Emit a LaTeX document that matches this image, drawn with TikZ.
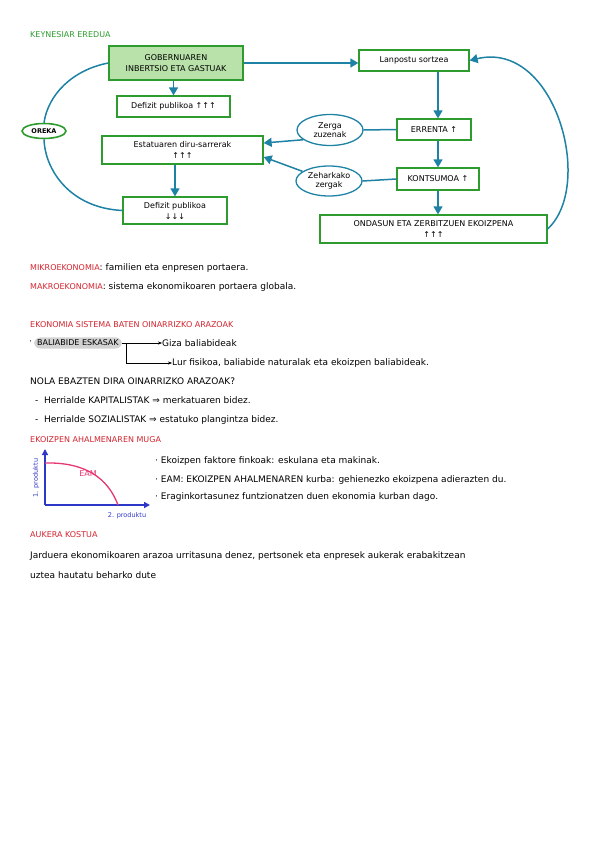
\documentclass[tikz,border=0pt]{standalone}
\usepackage{fontspec}
\setmainfont{DejaVu Sans}
\usetikzlibrary{arrows.meta,shapes.geometric,positioning}

\definecolor{flowc}{RGB}{30,130,165}
\definecolor{boxgreen}{RGB}{45,155,45}
\definecolor{boxfill}{RGB}{185,225,170}
\definecolor{headred}{RGB}{210,35,45}
\definecolor{axisblue}{RGB}{45,55,200}
\definecolor{curvepink}{RGB}{230,55,115}

\tikzset{
  gbox/.style={draw=boxgreen, line width=1.3pt, fill=white, align=center,
    inner sep=2pt, font=\fontsize{8}{11}\selectfont},
  zell/.style={ellipse, draw=flowc, line width=1.3pt, fill=white, align=center,
    inner sep=0pt, font=\fontsize{8}{9}\selectfont},
  flow/.style={draw=flowc, line width=1.5pt, -{Triangle[length=8pt,width=9pt]}},
  plain/.style={draw=flowc, line width=1.5pt},
  txt/.style={anchor=west, inner sep=0pt, font=\fontsize{9}{10}\selectfont},
  redhead/.style={anchor=west, inner sep=0pt, text=headred, font=\fontsize{8}{9}\selectfont},
}

\begin{document}
\begin{tikzpicture}[x=1pt,y=-1pt]
  \useasboundingbox (0,0) rectangle (599,848);

  % Keynes model
  \node[anchor=west, inner sep=0pt, text=boxgreen, font=\fontsize{8}{9}\selectfont] (keynes) at (30,35) {KEYNESIAR EREDUA};

  \node[gbox, fill=boxfill, minimum width=134pt, minimum height=34pt] (gastuak) at (176,63) {GOBERNUAREN\\INBERTSIO ETA GASTUAK};
  \node[gbox, minimum width=113pt, minimum height=21pt] (defizitA) at (173.5,106.5) {Defizit publikoa ↑↑↑};
  \node[gbox, minimum width=161pt, minimum height=28pt] (dirua) at (182.5,150) {Estatuaren diru-sarrerak\\↑↑↑};
  \node[gbox, minimum width=104pt, minimum height=27pt] (defizitB) at (175,210.5) {Defizit publikoa\\↓↓↓};
  \node[ellipse, draw=boxgreen, line width=1.6pt, fill=white, inner sep=0pt, minimum width=44pt, minimum height=15pt, font=\bfseries\fontsize{6.5}{7}\selectfont] (oreka) at (44,131) {OREKA};

  \node[gbox, minimum width=110pt, minimum height=21pt] (lanpostu) at (414,60.5) {Lanpostu sortzea};
  \node[gbox, minimum width=74pt, minimum height=21pt] (errenta) at (434,129.5) {ERRENTA ↑};
  \node[gbox, minimum width=82pt, minimum height=22pt] (kontsumoa) at (438,179) {KONTSUMOA ↑};
  \node[gbox, minimum width=227pt, minimum height=28pt] (ondasun) at (433.5,229) {ONDASUN ETA ZERBITZUEN EKOIZPENA\\↑↑↑};
  \node[zell, minimum width=66pt, minimum height=31pt] (zuzenak) at (330,130) {Zerga\\zuzenak};
  \node[zell, minimum width=66pt, minimum height=30pt] (zeharkako) at (329,181) {Zeharkako\\zergak};

  % Connectors
  \draw[flow] (gastuak.east) -- (gastuak.east -| lanpostu.west);
  \draw[flow] (gastuak.south -| defizitA) -- (defizitA.north);
  \draw[flow] (lanpostu.south -| kontsumoa) -- (errenta.north -| kontsumoa);
  \draw[flow] (errenta.south -| kontsumoa) -- (kontsumoa.north);
  \draw[flow] (kontsumoa.south) -- (ondasun.north -| kontsumoa);
  \draw[flow] (ondasun.east) .. controls (595,185) and (555,40) .. (lanpostu.east);
  \draw[plain] (errenta.west) -- (zuzenak.east);
  \draw[plain] (kontsumoa.west) -- (zeharkako.east);
  \draw[flow] (zuzenak.200) -- ([yshift=7pt]dirua.east);
  \draw[flow] (zeharkako.160) -- ([yshift=-7pt]dirua.east);
  \draw[flow] (dirua.south -| defizitB) -- (defizitB.north);
  \draw[plain] (gastuak.west) .. controls (72,70) and (48,95) .. (oreka.north);
  \draw[plain] (defizitB.west) .. controls (70,208) and (45,170) .. (oreka.south);

  % Micro / macro
  \node[txt] (mikro) at (30,268) {\textcolor{headred}{\fontsize{8}{9}\selectfont MIKROEKONOMIA}: familien eta enpresen portaera.};
  \node[txt] (makro) at (30,287) {\textcolor{headred}{\fontsize{8}{9}\selectfont MAKROEKONOMIA}: sistema ekonomikoaren portaera globala.};

  % Basic problems
  \node[redhead] (arazoak) at (30,325) {EKONOMIA SISTEMA BATEN OINARRIZKO ARAZOAK};
  \node[txt] (bullet) at (29,343) {·};
  \node[anchor=west, fill=gray!35, rounded corners=6pt, inner xsep=3pt, inner ysep=2.5pt, font=\fontsize{8}{9}\selectfont] (baliabide) at (34,343) {BALIABIDE ESKASAK};
  \node[txt] (giza) at (162,343) {Giza baliabideak};
  \node[txt] (lur) at (172,363) {Lur fisikoa, baliabide naturalak eta ekoizpen baliabideak.};
  \draw[-{Stealth[length=4pt]}, thin] (baliabide.east) -- (giza.west);
  \draw[-{Stealth[length=4pt]}, thin] ([xshift=4pt]baliabide.east) |- (lur.west);

  \node[txt] (nola) at (30,381) {NOLA EBAZTEN DIRA OINARRIZKO ARAZOAK?};
  \node[txt] (kapital) at (35,400) {- \ Herrialde KAPITALISTAK ⇒ merkatuaren bidez.};
  \node[txt] (sozial) at (35,420) {- \ Herrialde SOZIALISTAK ⇒ estatuko plangintza bidez.};

  % Production possibility frontier
  \node[redhead] (muga) at (30,440) {EKOIZPEN AHALMENAREN MUGA};
  \coordinate (origin) at (45,505);
  \coordinate (ytop) at (45,449);
  \coordinate (xend) at (150,505);
  \draw[axisblue, line width=1.5pt, -{Triangle[length=6pt,width=6pt]}] (origin) -- (ytop);
  \draw[axisblue, line width=1.5pt, -{Triangle[length=6pt,width=6pt]}] (origin) -- (xend);
  \draw[curvepink, line width=1.3pt] (45,463) .. controls (85,462) and (108,478) .. (118,505);
  \node[text=curvepink, font=\fontsize{8}{9}\selectfont] (eam) at (88,474) {EAM};
  \node[text=axisblue, rotate=90, font=\fontsize{6.5}{7}\selectfont] (ylab) at (36,478) {1. produktu};
  \node[text=axisblue, font=\fontsize{6.5}{7}\selectfont] (xlab) at (127,516) {2. produktu};

  \node[txt] (ekA) at (155,461) {· Ekoizpen faktore finkoak: eskulana eta makinak.};
  \node[txt] (ekB) at (155,480) {· EAM: EKOIZPEN AHALMENAREN kurba: gehienezko ekoizpena adierazten du.};
  \node[txt] (ekC) at (155,497) {· Eraginkortasunez funtzionatzen duen ekonomia kurban dago.};

  % Opportunity cost
  \node[redhead] (aukera) at (30,535) {AUKERA KOSTUA};
  \node[txt] (aukA) at (30,556) {Jarduera ekonomikoaren arazoa urritasuna denez, pertsonek eta enpresek aukerak erabakitzean};
  \node[txt] (aukB) at (30,575) {uztea hautatu beharko dute};
\end{tikzpicture}
\end{document}
